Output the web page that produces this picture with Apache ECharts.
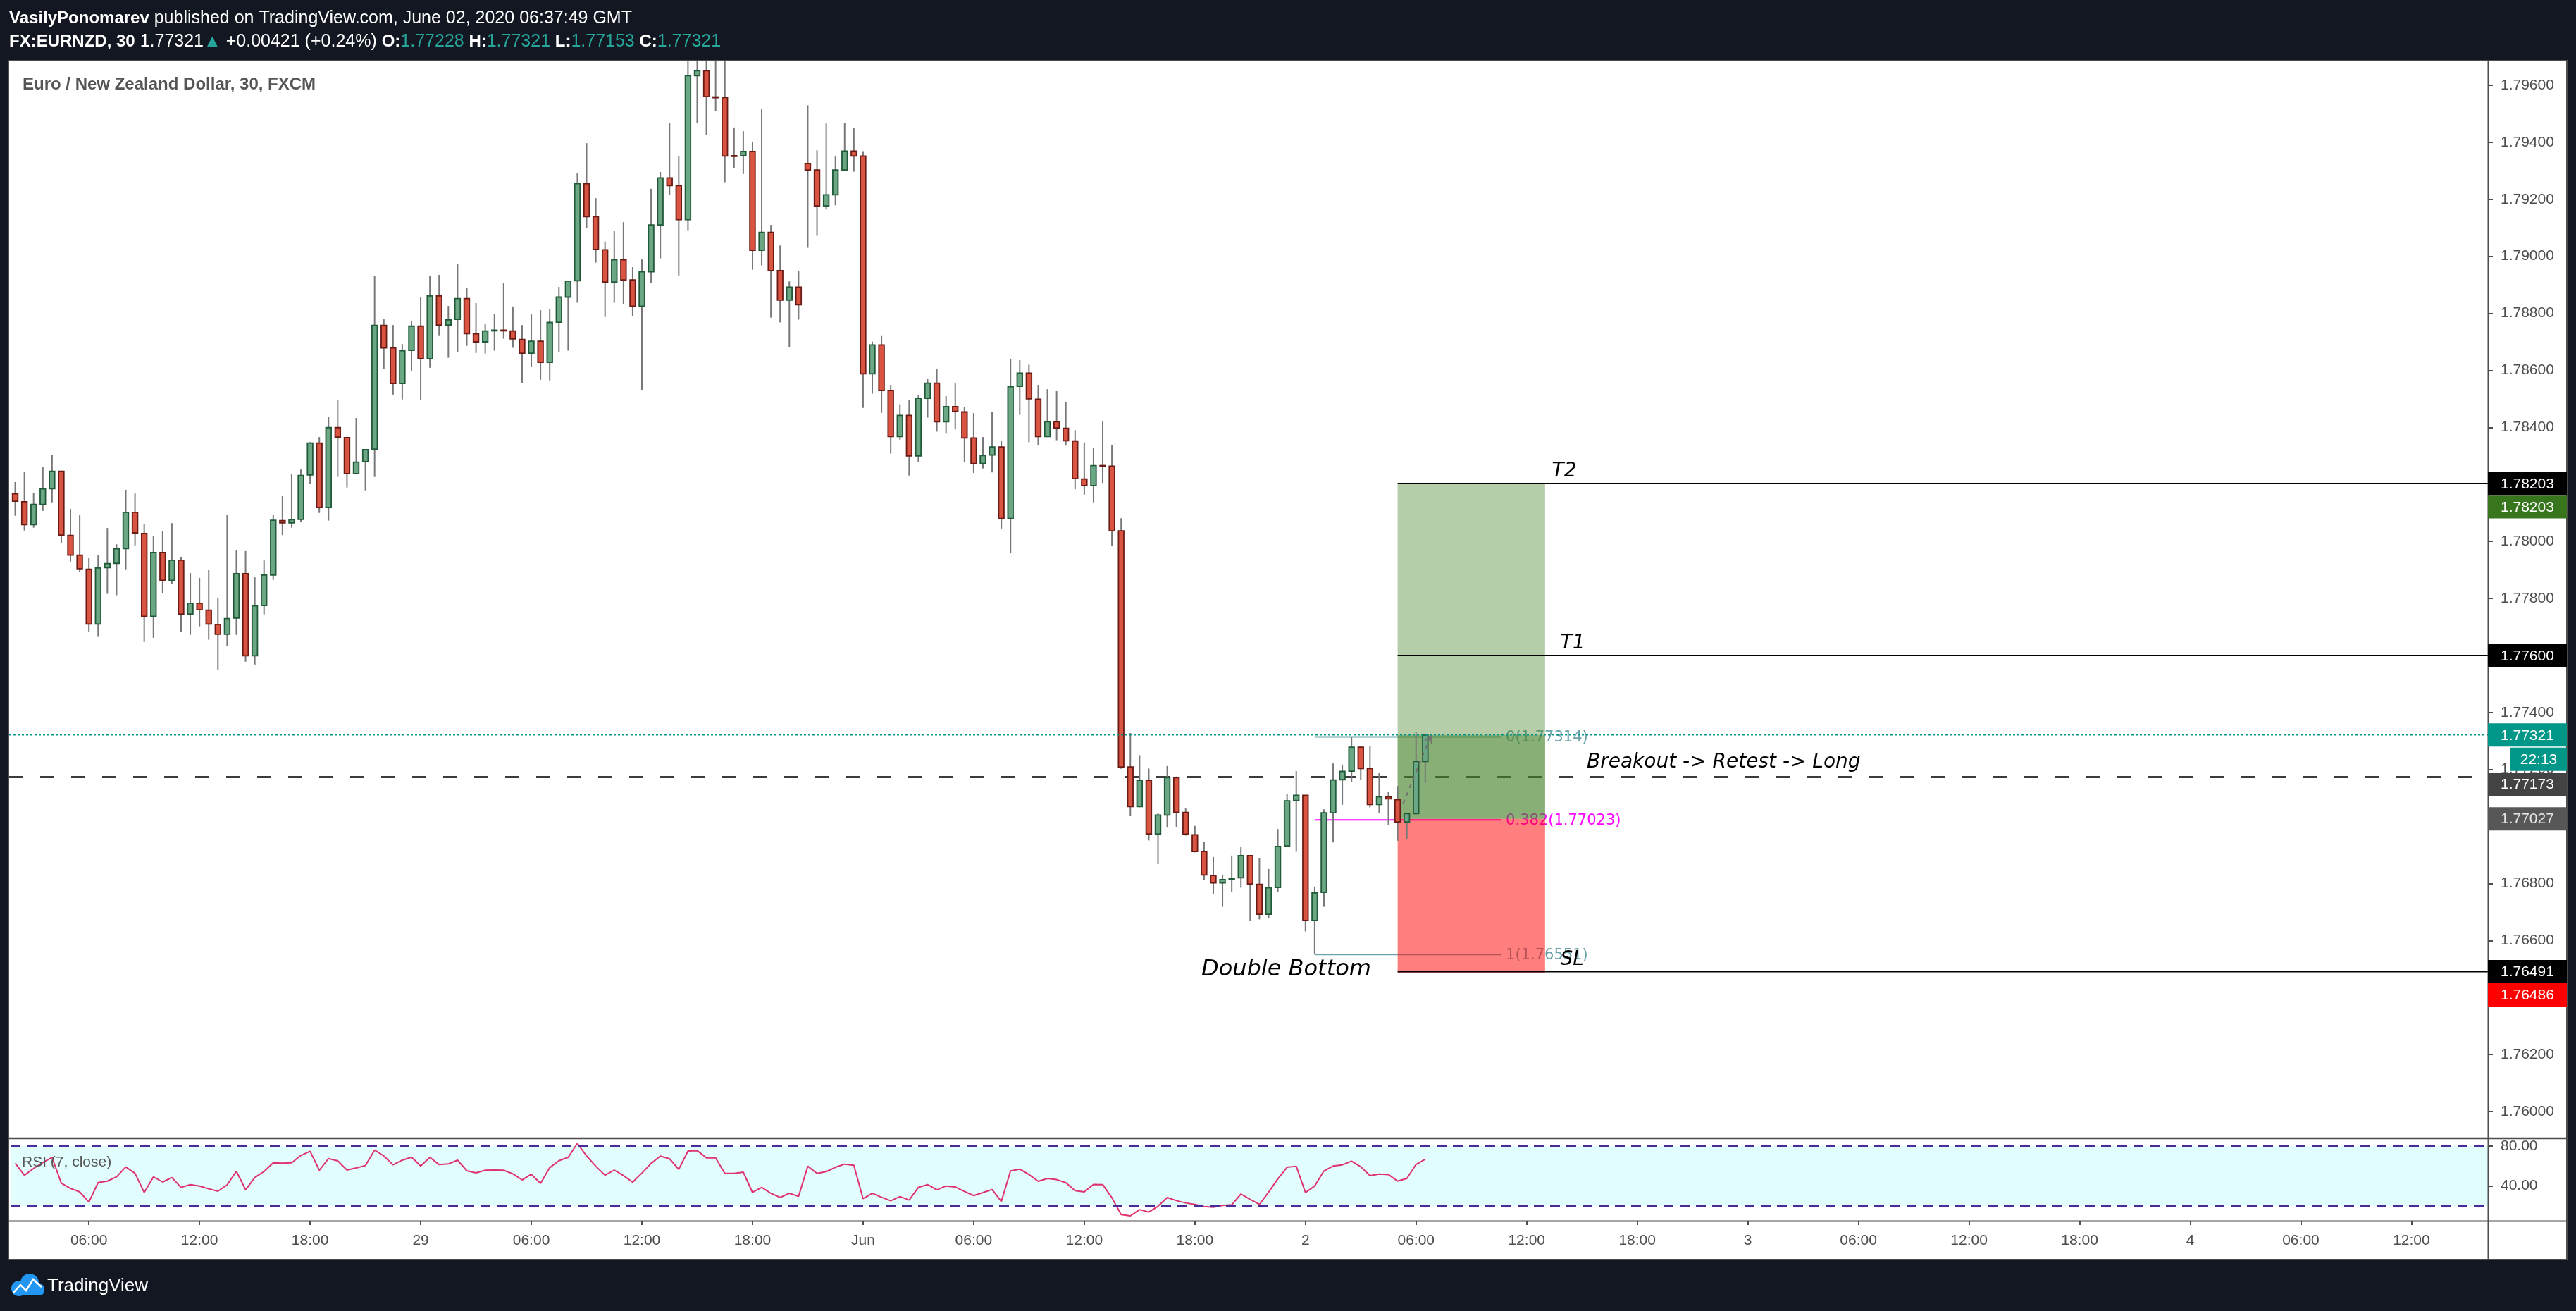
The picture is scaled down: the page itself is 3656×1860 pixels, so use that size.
<!DOCTYPE html>
<html>
<head>
<meta charset="utf-8">
<title>EURNZD 30 - Double Bottom</title>
<script src="https://cdn.jsdelivr.net/npm/echarts@6.0.0/dist/echarts.min.js"></script>
<style>
html, body { margin: 0; padding: 0; background: #131722; overflow: hidden; }
#chart { width: 3656px; height: 1860px; }
</style>
</head>
<body>
<div id="chart"></div>
<script>
// ---------------- DATA (30-minute bars, FX:EURNZD, 28 May 02:00 -> 2 Jun 06:30 GMT) ----------------
const opens = [
 1.78167,1.78139,1.78059,1.78130,1.78185,1.78246,1.78021,1.77952,1.77902,1.77710,
 1.77908,1.77923,1.77975,1.78102,1.78028,1.77737,1.77961,1.77863,1.77934,1.77745,
 1.77783,1.77759,1.77709,1.77674,1.77731,1.77887,1.77599,1.77775,1.77882,1.78073,
 1.78065,1.78077,1.78233,1.78345,1.78119,1.78399,1.78364,1.78238,1.78280,1.78324,
 1.78758,1.78679,1.78554,1.78670,1.78755,1.78641,1.78861,1.78759,1.78779,1.78852,
 1.78728,1.78700,1.78740,1.78741,1.78738,1.78708,1.78660,1.78702,1.78628,1.78769,
 1.78857,1.78914,1.79255,1.79139,1.79023,1.78910,1.78988,1.78917,1.78825,1.78946,
 1.79110,1.79275,1.79248,1.79129,1.79634,1.79651,1.79559,1.79557,1.79353,1.79353,
 1.79368,1.79021,1.79084,1.78950,1.78846,1.78892,1.79326,1.79303,1.79177,1.79216,
 1.79303,1.79369,1.79352,1.78588,1.78689,1.78529,1.78368,1.78442,1.78300,1.78502,
 1.78555,1.78420,1.78473,1.78454,1.78363,1.78273,1.78303,1.78331,1.78080,1.78544,
 1.78590,1.78499,1.78368,1.78420,1.78397,1.78352,1.78219,1.78196,1.78266,1.78264,
 1.78037,1.77209,1.77070,1.77162,1.76974,1.77040,1.77171,1.77049,1.76971,1.76912,
 1.76828,1.76802,1.76816,1.76820,1.76898,1.76797,1.76692,1.76786,1.76932,1.77091,
 1.77109,1.76670,1.76769,1.77048,1.77164,1.77194,1.77278,1.77203,1.77077,1.77104,
 1.77094,1.77016,1.77045,1.77228
];
const highs = [
 1.78208,1.78245,1.78171,1.78260,1.78302,1.78248,1.78114,1.78092,1.77941,1.77953,
 1.78047,1.77990,1.78181,1.78168,1.78060,1.78020,1.78035,1.78064,1.77946,1.77889,
 1.77872,1.77899,1.77800,1.78094,1.77968,1.77966,1.77874,1.77933,1.78092,1.78160,
 1.78235,1.78252,1.78348,1.78366,1.78438,1.78495,1.78366,1.78433,1.78323,1.78932,
 1.78779,1.78759,1.78692,1.78772,1.78856,1.78932,1.78935,1.78826,1.78972,1.78890,
 1.78836,1.78764,1.78799,1.78905,1.78824,1.78759,1.78799,1.78811,1.78816,1.78893,
 1.78914,1.79293,1.79397,1.79204,1.79052,1.79088,1.79120,1.78962,1.78989,1.79237,
 1.79296,1.79469,1.79350,1.79720,1.79720,1.79730,1.79700,1.79710,1.79452,1.79439,
 1.79400,1.79516,1.79110,1.79038,1.78912,1.78950,1.79530,1.79372,1.79466,1.79350,
 1.79469,1.79449,1.79369,1.78701,1.78723,1.78549,1.78481,1.78495,1.78513,1.78569,
 1.78604,1.78510,1.78554,1.78472,1.78450,1.78366,1.78455,1.78354,1.78639,1.78636,
 1.78620,1.78549,1.78534,1.78527,1.78488,1.78390,1.78347,1.78327,1.78421,1.78337,
 1.78081,1.77328,1.77250,1.77203,1.77046,1.77212,1.77175,1.77063,1.77002,1.76945,
 1.76893,1.76831,1.76898,1.76930,1.76900,1.76888,1.76851,1.76991,1.77115,1.77194,
 1.77110,1.76789,1.77060,1.77221,1.77217,1.77314,1.77280,1.77281,1.77189,1.77120,
 1.77142,1.77047,1.77330,1.77321
];
const lows = [
 1.78090,1.78038,1.78048,1.78107,1.78137,1.77994,1.77929,1.77892,1.77682,1.77665,
 1.77816,1.77811,1.77902,1.77986,1.77647,1.77662,1.77818,1.77850,1.77682,1.77672,
 1.77702,1.77655,1.77549,1.77633,1.77672,1.77578,1.77568,1.77744,1.77865,1.78022,
 1.78048,1.78068,1.78201,1.78100,1.78073,1.78226,1.78189,1.78238,1.78179,1.78226,
 1.78604,1.78515,1.78498,1.78597,1.78496,1.78609,1.78723,1.78644,1.78664,1.78686,
 1.78661,1.78659,1.78669,1.78711,1.78679,1.78555,1.78612,1.78567,1.78565,1.78664,
 1.78669,1.78837,1.79099,1.78978,1.78787,1.78837,1.78832,1.78791,1.78530,1.78906,
 1.78993,1.79215,1.78933,1.79089,1.79469,1.79425,1.79509,1.79260,1.79309,1.79289,
 1.78953,1.78968,1.78785,1.78768,1.78681,1.78778,1.79030,1.79072,1.79164,1.79179,
 1.79302,1.79297,1.78468,1.78518,1.78451,1.78308,1.78357,1.78231,1.78279,1.78434,
 1.78385,1.78378,1.78393,1.78279,1.78240,1.78256,1.78242,1.78045,1.77960,1.78444,
 1.78348,1.78338,1.78366,1.78355,1.78336,1.78183,1.78164,1.78137,1.78205,1.77984,
 1.77202,1.77036,1.77068,1.76951,1.76868,1.76996,1.76999,1.76968,1.76909,1.76811,
 1.76762,1.76718,1.76770,1.76785,1.76668,1.76674,1.76680,1.76770,1.76930,1.76911,
 1.76632,1.76551,1.76718,1.76944,1.77076,1.77156,1.77163,1.77067,1.77048,1.77005,
 1.76950,1.76957,1.77044,1.77153
];
const closes = [
 1.78141,1.78059,1.78130,1.78184,1.78246,1.78022,1.77952,1.77904,1.77710,1.77907,
 1.77922,1.77974,1.78102,1.78030,1.77737,1.77961,1.77863,1.77934,1.77745,1.77783,
 1.77760,1.77710,1.77674,1.77729,1.77887,1.77599,1.77774,1.77882,1.78074,1.78065,
 1.78076,1.78231,1.78345,1.78119,1.78399,1.78366,1.78238,1.78278,1.78322,1.78758,
 1.78679,1.78554,1.78669,1.78755,1.78641,1.78861,1.78759,1.78777,1.78852,1.78729,
 1.78700,1.78738,1.78741,1.78740,1.78710,1.78660,1.78702,1.78628,1.78768,1.78857,
 1.78913,1.79255,1.79139,1.79024,1.78910,1.78988,1.78917,1.78825,1.78946,1.79110,
 1.79275,1.79248,1.79129,1.79634,1.79651,1.79560,1.79558,1.79352,1.79351,1.79368,
 1.79021,1.79084,1.78950,1.78846,1.78892,1.78830,1.79303,1.79177,1.79216,1.79303,
 1.79369,1.79352,1.78588,1.78689,1.78529,1.78368,1.78442,1.78300,1.78502,1.78555,
 1.78420,1.78473,1.78456,1.78363,1.78273,1.78301,1.78331,1.78080,1.78543,1.78590,
 1.78500,1.78368,1.78420,1.78398,1.78353,1.78220,1.78196,1.78266,1.78264,1.78037,
 1.77209,1.77070,1.77162,1.76974,1.77040,1.77171,1.77050,1.76973,1.76912,1.76830,
 1.76802,1.76814,1.76818,1.76898,1.76798,1.76692,1.76785,1.76930,1.77090,1.77109,
 1.76670,1.76767,1.77048,1.77163,1.77193,1.77278,1.77203,1.77077,1.77104,1.77097,
 1.77016,1.77045,1.77228,1.77321
];
const rsiValues = [
 62.8,50.8,57.6,63.5,68.7,42.8,37.6,34.1,24.0,43.5,
 44.9,49.2,59.1,52.7,33.6,49.2,44.0,48.5,38.6,41.4,
 40.0,37.2,34.8,41.2,54.8,36.2,48.5,54.6,63.3,62.8,
 63.3,70.6,74.8,55.8,67.5,65.2,56.0,58.1,60.5,76.0,
 70.1,61.2,65.9,68.9,60.0,68.7,61.4,62.1,65.9,55.3,
 53.2,55.8,56.0,55.8,52.2,46.1,51.8,42.6,58.4,65.4,
 68.7,82.6,70.1,59.8,50.8,56.0,50.4,43.8,52.9,62.6,
 69.9,67.3,56.7,75.1,75.5,68.2,68.2,52.7,52.7,53.9,
 33.6,38.6,32.7,28.5,32.7,29.6,59.8,52.7,54.4,58.8,
 61.9,60.7,27.3,32.7,28.7,25.2,29.4,25.9,38.6,41.4,
 36.2,40.0,39.1,34.6,30.4,33.4,36.5,24.5,55.1,56.9,
 51.5,44.7,47.5,46.4,43.3,35.3,34.1,41.6,41.4,28.2,
 11.3,10.1,16.4,13.9,19.8,28.5,25.4,23.1,21.6,19.5,
 18.8,20.5,21.2,32.0,26.6,21.6,33.9,47.1,58.8,59.8,
 33.4,40.0,55.1,60.0,61.2,64.9,59.3,50.4,52.0,51.5,
 44.9,47.5,61.6,66.8
];

// Time axis ticks (bar index -> label)
const timeTickIndex  = [8,20,32,44,56,68,80,92,104,116,128,140,152,164,176,188,200,212,224,236,248,260];
const timeTickLabels = ['06:00','12:00','18:00','29','06:00','12:00','18:00','Jun','06:00','12:00','18:00','2',
                        '06:00','12:00','18:00','3','06:00','12:00','18:00','4','06:00','12:00'];
// Price axis ticks
const priceTicks = [1.760,1.762,1.764,1.766,1.768,1.770,1.772,1.774,1.776,1.778,1.780,
                    1.782,1.784,1.786,1.788,1.790,1.792,1.794,1.796];
const rsiTicks = [40, 80];
const rsiBands = [20, 80];

// Trade drawing values
const lastPrice = 1.77321;
const breakoutLevel = 1.77173;
const levelNames  = ['T2', 'T1', 'SL'];
const levelPrices = [1.78203, 1.77600, 1.76491];
const levelStart = 150;
const boxStart = 150, boxEnd = 166;
const targetPrice = 1.78203, entryPrice = 1.77027, stopPrice = 1.76486;
const fibRatios = [0, 0.382, 1];
const fibPrices = [1.77314, 1.77023, 1.76551];
const fibStart = 141, fibEnd = 161.2;
const arrowFrom = [150.6, 1.77080], arrowTo = [153.6, 1.77318];

// ---------------- STYLE ----------------
const AXIS_FONT = 'Liberation Sans';
const NOTE_FONT = 'DejaVu Sans';
const AXIS_TEXT = '#4d4d4d';
const FRAME = '#4d4d4d';
const fibColors = ['#6aa3a9', '#ff00ff', '#6aa3a9'];
const levelTextDx = [219, 231, 231];

const chart = echarts.init(document.getElementById('chart'), null, { renderer: 'canvas', width: 3656, height: 1860 });

const candleData = opens.map((o, i) => [i, o, closes[i], lows[i], highs[i]]);
const rsiData = rsiValues.map((v, i) => [i, v]);

function renderCandle(params, api) {
  const cs = params.coordSys;
  const clampY = y => Math.max(cs.y, Math.min(cs.y + cs.height, y));
  const i = api.value(0), o = api.value(1), c = api.value(2), lo = api.value(3), hi = api.value(4);
  const pO = api.coord([i, o]), pC = api.coord([i, c]);
  const yH = clampY(api.coord([i, hi])[1]), yL = clampY(api.coord([i, lo])[1]);
  const x = pO[0];
  const bw = api.size([1, 0])[0] * 0.58;
  const up = c >= o;
  const yTop = Math.min(pO[1], pC[1]);
  const h = Math.max(Math.abs(pO[1] - pC[1]), 1);
  return { type: 'group', children: [
    { type: 'line', shape: { x1: x, y1: yH, x2: x, y2: yL }, style: { stroke: '#787878', lineWidth: 2 } },
    { type: 'rect', shape: { x: x - bw / 2, y: yTop, width: bw, height: h },
      style: { fill: up ? '#6ca785' : '#d95441', stroke: up ? '#215a38' : '#6b1b15', lineWidth: 1.8 } }
  ]};
}

function renderFib(params, api) {
  const k = params.dataIndex;
  const p = fibPrices[k];
  const a = api.coord([fibStart, p]), b = api.coord([fibEnd, p]);
  return { type: 'group', children: [
    { type: 'line', shape: { x1: a[0], y1: a[1], x2: b[0], y2: b[1] }, style: { stroke: fibColors[k], lineWidth: 2 } },
    { type: 'text', x: b[0] + 7, y: a[1] + 1,
      style: { text: fibRatios[k] + '(' + p.toFixed(5) + ')', fill: fibColors[k], fontSize: 21, fontFamily: NOTE_FONT,
               align: 'left', verticalAlign: 'middle' } }
  ]};
}

function renderBox(params, api) {
  const a = api.coord([boxStart, targetPrice]), b = api.coord([boxEnd, targetPrice]);
  const yT = a[1];
  const yE = api.coord([boxStart, entryPrice])[1];
  const yS = api.coord([boxStart, stopPrice])[1];
  const yL = api.coord([boxStart, lastPrice])[1];
  const w = b[0] - a[0];
  return { type: 'group', children: [
    { type: 'rect', shape: { x: a[0], y: yT, width: w, height: yE - yT }, style: { fill: 'rgba(70,130,40,0.4)' } },
    { type: 'rect', shape: { x: a[0], y: yL, width: w, height: yE - yL }, style: { fill: 'rgba(70,130,40,0.4)' } },
    { type: 'rect', shape: { x: a[0], y: yE, width: w, height: yS - yE }, style: { fill: 'rgba(255,0,0,0.5)' } }
  ]};
}

function renderLevel(params, api) {
  const k = params.dataIndex, cs = params.coordSys;
  const a = api.coord([levelStart, levelPrices[k]]);
  return { type: 'group', children: [
    { type: 'line', shape: { x1: a[0], y1: a[1], x2: cs.x + cs.width, y2: a[1] }, style: { stroke: '#000000', lineWidth: 2 } },
    { type: 'text', x: a[0] + levelTextDx[k], y: a[1] - 17,
      style: { text: levelNames[k], fill: '#000000', fontSize: 28, fontStyle: 'italic', fontFamily: NOTE_FONT,
               align: 'left', verticalAlign: 'middle' } }
  ]};
}

function makeHLine(color, width, dash) {
  return function (params, api) {
    const cs = params.coordSys;
    const y = api.coord([0, api.value(0)])[1];
    return { type: 'line', shape: { x1: cs.x - 2, y1: y, x2: cs.x + cs.width, y2: y },
             style: { stroke: color, lineWidth: width, lineDash: dash } };
  };
}

function renderArrow(params, api) {
  const a = api.coord(arrowFrom), b = api.coord(arrowTo);
  const ang = Math.atan2(b[1] - a[1], b[0] - a[0]);
  const L = 11;
  return { type: 'group', children: [
    { type: 'line', shape: { x1: a[0], y1: a[1], x2: b[0], y2: b[1] }, style: { stroke: '#707070', lineWidth: 2, lineDash: [6, 6] } },
    { type: 'polyline', shape: { points: [
        [b[0] - L * Math.cos(ang - 0.5), b[1] - L * Math.sin(ang - 0.5)], [b[0], b[1]],
        [b[0] - L * Math.cos(ang + 0.5), b[1] - L * Math.sin(ang + 0.5)]] },
      style: { stroke: '#707070', lineWidth: 2, fill: null } }
  ]};
}

const option = {
  backgroundColor: '#131722',
  animation: false,
  grid: [
    { left: 15, top: 87, width: 3516, height: 1527, containLabel: false, outerBoundsMode: 'none' },
    { left: 15, top: 1616, width: 3516, height: 116, containLabel: false, outerBoundsMode: 'none' }
  ],
  xAxis: [
    { type: 'value', gridIndex: 0, min: -0.5, max: 268.3, show: false,
      axisLine: { show: false, onZero: false } },
    { type: 'value', gridIndex: 1, min: -0.5, max: 268.3, position: 'bottom',
      axisLine: { show: false, onZero: false }, splitLine: { show: false },
      axisTick: { show: true, customValues: timeTickIndex, length: 6, lineStyle: { color: FRAME, width: 2 } },
      axisLabel: { customValues: timeTickIndex, margin: 18, color: AXIS_TEXT, fontSize: 21, fontFamily: AXIS_FONT,
        formatter: v => { const k = timeTickIndex.indexOf(Math.round(v)); return k >= 0 ? timeTickLabels[k] : ''; } } }
  ],
  yAxis: [
    { type: 'value', gridIndex: 0, position: 'right', min: 1.759085, max: 1.796841, scale: true,
      splitLine: { show: false }, axisLine: { show: false, onZero: false },
      axisTick: { show: true, customValues: priceTicks, length: 7, lineStyle: { color: FRAME, width: 2 } },
      axisLabel: { customValues: priceTicks, margin: 18, color: AXIS_TEXT, fontSize: 21, fontFamily: AXIS_FONT,
                   formatter: v => v.toFixed(5) } },
    { type: 'value', gridIndex: 1, position: 'right', min: 5.18, max: 87.06, scale: true,
      splitLine: { show: false }, axisLine: { show: false, onZero: false },
      axisTick: { show: true, customValues: rsiTicks, length: 7, lineStyle: { color: FRAME, width: 2 } },
      axisLabel: { customValues: rsiTicks, margin: 18, color: AXIS_TEXT, fontSize: 21, fontFamily: AXIS_FONT,
                   formatter: v => v.toFixed(2) } }
  ],
  series: [
    { name: 'fib', type: 'custom', xAxisIndex: 0, yAxisIndex: 0, z: 1, silent: true,
      data: fibPrices.map((p, k) => [fibStart, p]), renderItem: renderFib },
    { name: 'breakout', type: 'custom', xAxisIndex: 0, yAxisIndex: 0, z: 1, silent: true,
      data: [[breakoutLevel]], renderItem: makeHLine('#3c3c3c', 3, [20, 24]) },
    { name: 'position', type: 'custom', xAxisIndex: 0, yAxisIndex: 0, z: 2, silent: true,
      data: [[boxStart, targetPrice]], renderItem: renderBox },
    { name: 'EURNZD', type: 'custom', xAxisIndex: 0, yAxisIndex: 0, z: 3, silent: true, clip: true,
      encode: { x: 0, y: [1, 2, 3, 4] }, data: candleData, renderItem: renderCandle },
    { name: 'levels', type: 'custom', xAxisIndex: 0, yAxisIndex: 0, z: 4, silent: true,
      data: levelPrices.map(p => [levelStart, p]), renderItem: renderLevel },
    { name: 'path', type: 'custom', xAxisIndex: 0, yAxisIndex: 0, z: 5, silent: true,
      data: [arrowFrom], renderItem: renderArrow },
    { name: 'last', type: 'custom', xAxisIndex: 0, yAxisIndex: 0, z: 6, silent: true,
      data: [[lastPrice]], renderItem: makeHLine('#009688', 1.5, [3, 3]) },
    { name: 'RSI', type: 'line', xAxisIndex: 1, yAxisIndex: 1, z: 3, silent: true,
      data: rsiData, showSymbol: false, symbol: 'none',
      lineStyle: { color: '#df3270', width: 2 },
      markArea: { silent: true, itemStyle: { color: '#e1fdfd' }, data: [[{ yAxis: rsiBands[0] }, { yAxis: rsiBands[1] }]] },
      markLine: { silent: true, symbol: 'none', label: { show: false },
        lineStyle: { color: '#4b2c96', type: [14, 9], width: 2 },
        data: rsiBands.map(v => ({ yAxis: v })) } }
  ]
};

chart.setOption(option);

// ---------------- GRAPHIC OVERLAY (frame, header, axis price tags, notes) ----------------
const yPix = p => chart.convertToPixel({ yAxisIndex: 0 }, p);
const g = [];
g.push({ type: 'rect', z: -100, shape: { x: 12, y: 86, width: 3631, height: 1701 }, style: { fill: '#ffffff' } });
g.push({ type: 'rect', z: 60, shape: { x: 12, y: 86, width: 3631, height: 1701 }, style: { fill: null, stroke: FRAME, lineWidth: 2 } });
g.push({ type: 'line', z: 60, shape: { x1: 12, y1: 1615, x2: 3643, y2: 1615 }, style: { stroke: FRAME, lineWidth: 2.5 } });
g.push({ type: 'line', z: 60, shape: { x1: 12, y1: 1732.5, x2: 3643, y2: 1732.5 }, style: { stroke: FRAME, lineWidth: 2 } });
g.push({ type: 'line', z: 60, shape: { x1: 3531.5, y1: 86, x2: 3531.5, y2: 1787 }, style: { stroke: FRAME, lineWidth: 2 } });

// header
g.push({ type: 'text', z: 100, x: 13, y: 26, style: {
  text: '{b|VasilyPonomarev}{n| published on TradingView.com, June 02, 2020 06:37:49 GMT}',
  verticalAlign: 'middle', align: 'left',
  rich: { b: { fill: '#ffffff', fontSize: 24, fontWeight: 'bold', fontFamily: AXIS_FONT },
          n: { fill: '#ffffff', fontSize: 25, fontFamily: AXIS_FONT } } } });
g.push({ type: 'text', z: 100, x: 13, y: 59, style: {
  text: '{b|FX:EURNZD, 30}{n| 1.77321}{g|▲}{n| +0.00421 (+0.24%) }{b|O:}{g|1.77228}{b| H:}{g|1.77321}{b| L:}{g|1.77153}{b| C:}{g|1.77321}',
  verticalAlign: 'middle', align: 'left',
  rich: { b: { fill: '#ffffff', fontSize: 24, fontWeight: 'bold', fontFamily: AXIS_FONT },
          n: { fill: '#ffffff', fontSize: 25, fontFamily: AXIS_FONT },
          g: { fill: '#26a69a', fontSize: 25, fontFamily: AXIS_FONT } } } });
g.push({ type: 'text', z: 100, x: 32, y: 120, style: { text: 'Euro / New Zealand Dollar, 30, FXCM',
  fill: '#555555', fontSize: 24, fontWeight: 'bold', fontFamily: AXIS_FONT, verticalAlign: 'middle', align: 'left' } });
g.push({ type: 'text', z: 100, x: 31, y: 1649, style: { text: 'RSI (7, close)',
  fill: '#555555', fontSize: 21, fontFamily: AXIS_FONT, verticalAlign: 'middle', align: 'left' } });

// notes
g.push({ type: 'text', z: 100, x: 2252, y: 1082, style: { text: 'Breakout -> Retest -> Long',
  fill: '#000000', fontSize: 28, fontStyle: 'italic', fontFamily: NOTE_FONT, verticalAlign: 'middle', align: 'left' } });
g.push({ type: 'text', z: 100, x: 1705, y: 1376, style: { text: 'Double Bottom',
  fill: '#000000', fontSize: 32, fontStyle: 'italic', fontFamily: NOTE_FONT, verticalAlign: 'middle', align: 'left' } });

// price tags on the axis
const tags = [
  [levelPrices[0], '#000000', '#ffffff', 0],
  [targetPrice,    '#38761d', '#ffffff', 33],
  [levelPrices[1], '#000000', '#ffffff', 0],
  [lastPrice,      '#009688', '#ffffff', 0],
  [breakoutLevel,  '#434343', '#ffffff', 10],
  [entryPrice,     '#575757', '#e6e6e6', 0],
  [levelPrices[2], '#000000', '#ffffff', 0],
  [stopPrice,      '#ff0000', '#ffffff', 31]
];
tags.forEach(t => {
  const yc = yPix(t[0]) + t[3];
  g.push({ type: 'rect', z: 110, shape: { x: 3531, y: yc - 16.5, width: 112, height: 33 }, style: { fill: t[1] } });
  g.push({ type: 'text', z: 111, x: 3549, y: yc + 1, style: { text: t[0].toFixed(5), fill: t[2], fontSize: 21,
    fontFamily: AXIS_FONT, verticalAlign: 'middle', align: 'left' } });
});
const yLast = yPix(lastPrice);
g.push({ type: 'rect', z: 110, shape: { x: 3563, y: yLast + 18, width: 80, height: 33 }, style: { fill: '#009688' } });
g.push({ type: 'text', z: 111, x: 3603, y: yLast + 35, style: { text: '22:13', fill: '#ffffff', fontSize: 21,
  fontFamily: AXIS_FONT, verticalAlign: 'middle', align: 'center' } });

// footer logo
g.push({ type: 'group', z: 100, children: [
  { type: 'circle', shape: { cx: 27, cy: 1828, r: 11 }, style: { fill: '#2196f3' } },
  { type: 'circle', shape: { cx: 42, cy: 1820, r: 13 }, style: { fill: '#2196f3' } },
  { type: 'circle', shape: { cx: 54, cy: 1829, r: 9 }, style: { fill: '#2196f3' } },
  { type: 'rect', shape: { x: 18, y: 1826, width: 44, height: 12, r: 5 }, style: { fill: '#2196f3' } },
  { type: 'polyline', shape: { points: [[19, 1834], [29, 1823], [37, 1831], [47, 1815], [59, 1826]] },
    style: { stroke: '#ffffff', lineWidth: 2.5, fill: null } }
] });
g.push({ type: 'text', z: 100, x: 67, y: 1825, style: { text: 'TradingView', fill: '#ffffff', fontSize: 26,
  fontFamily: AXIS_FONT, verticalAlign: 'middle', align: 'left' } });

chart.setOption({ graphic: g });
</script>
</body>
</html>
